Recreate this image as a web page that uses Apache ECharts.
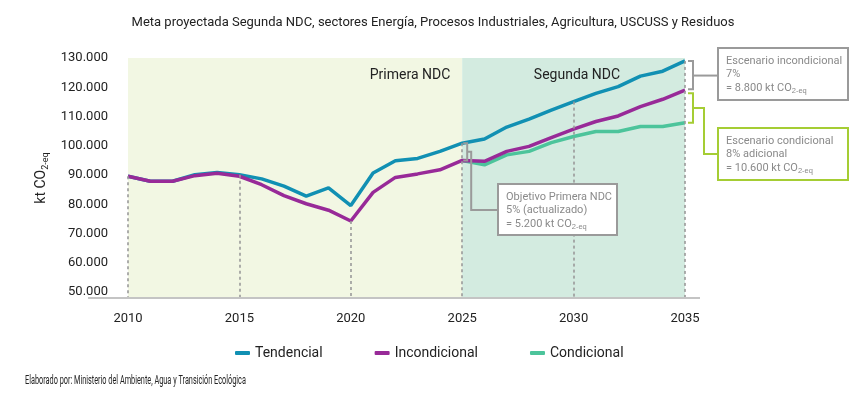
<!DOCTYPE html>
<html lang="es">
<head>
<meta charset="UTF-8">
<title>Meta proyectada Segunda NDC</title>
<script src="https://cdn.jsdelivr.net/npm/echarts@6/dist/echarts.min.js"></script>
<style>html,body{margin:0;background:#fff}</style>
</head>
<body>
<div id="chart" style="width:866px;height:399px"></div>
<script>
// años y series (kt CO2-eq)
const years = ['2010','2011','2012','2013','2014','2015','2016','2017','2018','2019','2020','2021','2022',
  '2023','2024','2025','2026','2027','2028','2029','2030','2031','2032','2033','2034','2035'];
const tendencial = [89600, 87900, 87900, 90100, 90900, 90100, 88700, 86200, 82800, 85600, 79600, 90700, 94900,
  95700, 98100, 100900, 102300, 106400, 109100, 112200, 115100, 117900, 120200, 123800, 125500, 129000];
const incondicional = [89600, 87900, 87900, 89800, 90600, 89600, 86700, 83000, 80200, 78000, 74300, 84100, 89200,
  90400, 91800, 95000, 94700, 98100, 99800, 102800, 105700, 108300, 110200, 113400, 115900, 119000];
const condicional = [null, null, null, null, null, null, null, null, null, null, null, null, null,
  null, null, 95000, 93500, 96900, 98100, 101100, 103200, 104900, 104900, 106600, 106600, 107900];
const guideYears = ['2010', '2015', '2020', '2025', '2030', '2035'];
const yTicks = [50000, 60000, 70000, 80000, 90000, 100000, 110000, 120000, 130000];

const BLUE = '#1190b3', PURPLE = '#982a98', GREEN = '#4cc49b';
const GREY = '#9a9a9a', LIME = '#a5cd34';
const FONT = 'Roboto';

const fmt = v => String(v).replace(/\B(?=(\d{3})+(?!\d))/g, '.');

// linea guia: desde la linea mas alta visible hasta el eje
const guideData = guideYears.map(y => {
  const i = years.indexOf(y);
  const top = y === '2020' ? incondicional[i] : tendencial[i];
  return [{ coord: [y, top] }, { coord: [y, 48000] }];
});

const chart = echarts.init(document.getElementById('chart'));

chart.setOption({
  animation: false,
  textStyle: { fontFamily: FONT },
  title: {
    text: 'Meta proyectada Segunda NDC, sectores Energía, Procesos Industriales, Agricultura, USCUSS y Residuos',
    left: 'center', top: 11,
    textStyle: { fontSize: 13, fontWeight: 'normal', color: '#222' }
  },
  grid: { left: 128, right: 181, top: 58, bottom: 101 },
  legend: {
    data: ['Tendencial', 'Incondicional', 'Condicional'],
    left: 230, top: 341, itemGap: 52,
    icon: 'roundRect', itemWidth: 15, itemHeight: 4,
    textStyle: { fontSize: 14, color: '#222' }
  },
  xAxis: {
    type: 'category', data: years, boundaryGap: false,
    axisLine: { show: false }, axisTick: { show: false },
    axisLabel: { interval: 4, fontSize: 13, color: '#222', margin: 14 }
  },
  yAxis: {
    type: 'value', min: 48000, max: 130000, interval: 2000,
    name: '{a|kt CO}{s|2-eq}', nameLocation: 'middle', nameGap: 72, nameRotate: 90,
    nameTextStyle: {
      rich: {
        a: { fontSize: 14, color: '#222', lineHeight: 16 },
        s: { fontSize: 9, color: '#222', lineHeight: 9, verticalAlign: 'bottom' }
      }
    },
    axisLine: { show: false }, axisTick: { show: false }, splitLine: { show: false },
    axisLabel: {
      fontSize: 13, color: '#222', margin: 20,
      formatter: v => yTicks.includes(v) ? fmt(v) : ''
    }
  },
  series: [
    {
      name: 'fondo', type: 'line', data: tendencial, silent: true, z: 1,
      symbol: 'none', lineStyle: { opacity: 0 },
      markArea: {
        silent: true,
        data: [
          [{ xAxis: '2010', itemStyle: { color: '#f2f7e3' } }, { xAxis: '2025' }],
          [{ xAxis: '2025', itemStyle: { color: '#d3ebe0' } }, { xAxis: '2035' }]
        ]
      },
      markLine: {
        silent: true, symbol: 'none', label: { show: false },
        lineStyle: { color: GREY, type: [3, 3], width: 1.6 },
        data: guideData
      }
    },
    {
      name: 'Tendencial', type: 'line', data: tendencial, z: 3,
      symbol: 'none', color: BLUE, lineStyle: { width: 3.5, color: BLUE }
    },
    {
      name: 'Condicional', type: 'line', data: condicional, z: 3,
      symbol: 'none', color: GREEN, lineStyle: { width: 3.5, color: GREEN }
    },
    {
      name: 'Incondicional', type: 'line', data: incondicional, z: 4,
      symbol: 'none', color: PURPLE, lineStyle: { width: 3.5, color: PURPLE }
    }
  ]
});

// anotaciones ubicadas desde los datos
const px = (i, v) => chart.convertToPixel({ gridIndex: 0 }, [i, v]);
const i25 = years.indexOf('2025'), i35 = years.indexOf('2035');
const t25 = px(i25, tendencial[i25]), p25 = px(i25, incondicional[i25]);
const t35 = px(i35, tendencial[i35]), p35 = px(i35, incondicional[i35]), c35 = px(i35, condicional[i35]);
const axisY = px(0, 48000)[1];

const rich = {
  s: { fontSize: 7.5, lineHeight: 8, verticalAlign: 'bottom', fill: '#8a8a8a' }
};
function box(x, y, w, h, stroke, text) {
  return [
    { type: 'rect', shape: { x: x, y: y, width: w, height: h }, z: 20,
      style: { fill: '#fff', stroke: stroke, lineWidth: 2 } },
    { type: 'text', x: x + 8, y: y + 6, z: 21,
      style: { text: text, fill: '#8a8a8a', font: '11px ' + FONT, lineHeight: 13.5, rich: rich } }
  ];
}
function line(points, stroke) {
  return { type: 'polyline', z: 19, shape: { points: points },
    style: { stroke: stroke, lineWidth: 2, fill: null } };
}

const bx = t25[0] + 5, midY = (t25[1] + p25[1]) / 2;
const gx = t35[0] + 8;
const midG = (t35[1] + p35[1]) / 2;
const midL = (p35[1] + 3 + c35[1]) / 2;

chart.setOption({
  graphic: [
    { type: 'line', shape: { x1: 88, y1: axisY, x2: 700, y2: axisY }, z: 5,
      style: { stroke: '#c4c4c4', lineWidth: 2 } },
    { type: 'text', x: 410, y: 75, z: 10,
      style: { text: 'Primera NDC', font: '14px ' + FONT, fill: '#222', align: 'center', verticalAlign: 'middle' } },
    { type: 'text', x: 577, y: 75, z: 10,
      style: { text: 'Segunda NDC', font: '14px ' + FONT, fill: '#222', align: 'center', verticalAlign: 'middle' } },
    // Objetivo Primera NDC
    line([[bx - 4, t25[1]], [bx, t25[1]], [bx, p25[1]], [bx - 4, p25[1]]], GREY),
    line([[bx, midY], [bx + 4, midY], [bx + 4, 210], [498, 210]], GREY),
    ...box(498, 184, 119, 51, GREY, 'Objetivo Primera NDC\n5% (actualizado)\n= 5.200 kt CO{s|2-eq}'),
    // Escenario incondicional
    line([[gx - 5, t35[1]], [gx, t35[1]], [gx, p35[1] - 1], [gx - 5, p35[1] - 1]], GREY),
    line([[gx, midG], [718, midG]], GREY),
    ...box(718, 48, 130, 52, GREY, 'Escenario incondicional\n7%\n= 8.800 kt CO{s|2-eq}'),
    // Escenario condicional
    line([[gx - 5, p35[1] + 3], [gx, p35[1] + 3], [gx, c35[1]], [gx - 5, c35[1]]], LIME),
    line([[gx, midL], [gx + 11, midL], [gx + 11, 154], [718, 154]], LIME),
    ...box(718, 128, 130, 52, LIME, 'Escenario condicional\n8% adicional\n= 10.600 kt CO{s|2-eq}'),
    // fuente
    { type: 'text', x: 25, y: 375, scaleX: 0.61,
      style: { text: 'Elaborado por: Ministerio del Ambiente, Agua y Transición Ecológica',
        font: '12px ' + FONT, fill: '#222' } }
  ]
});
</script>
</body>
</html>
